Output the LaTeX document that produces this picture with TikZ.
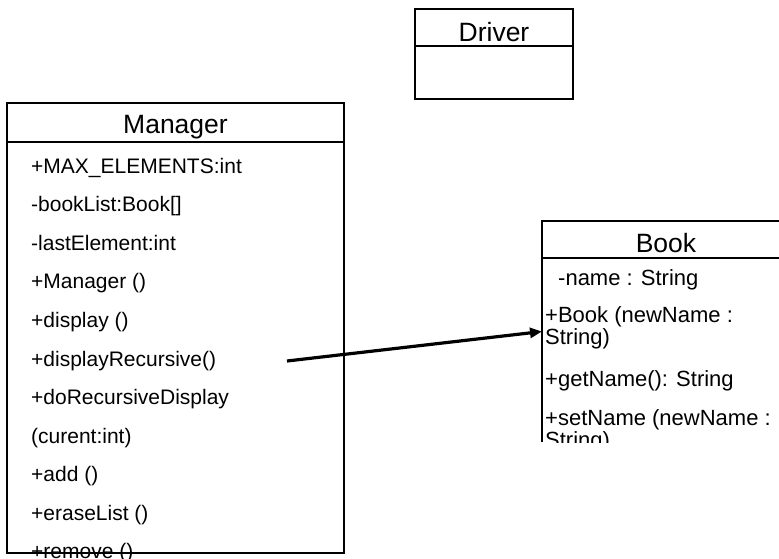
\documentclass[tikz,border=0pt]{standalone}
\usepackage{fontspec}
\setmainfont{Liberation Sans}
\usetikzlibrary{arrows.meta}
\begin{document}
\begin{tikzpicture}[x=1pt,y=-1pt,
  classbox/.style={draw=black,line width=1.1pt,inner sep=0pt,outer sep=0pt,anchor=north west},
  ghostbox/.style={inner sep=0pt,outer sep=0pt,anchor=north west},
  title/.style={font=\fontsize{26.5}{30}\selectfont,anchor=base,inner sep=0pt},
  member/.style={font=\fontsize{21}{25}\selectfont,anchor=base west,inner sep=0pt},
  bmember/.style={font=\fontsize{22}{26}\selectfont,anchor=base west,inner sep=0pt},
  sep/.style={line width=1.1pt},
  assoc/.style={line width=3.2pt,-{Triangle[length=12pt,width=10pt]}}
]
\useasboundingbox (0,0) rectangle (779,558);
\fill[white] (0,0) rectangle (779,558);

% Driver
\node[classbox,minimum width=158pt,minimum height=90pt] (driver) at (415,9) {};
\draw[sep] (415,46) -- (573,46);
\node[title] (drivert) at (494,41) {Driver};

% Manager
\node[classbox,minimum width=337pt,minimum height=450pt] (manager) at (7,103) {};
\draw[sep] (manager.west |- 0,142) -- (manager.east |- 0,142);
\node[title] (managert) at (175.5,133) {Manager};
\node[member] (m1) at (31,173) {+MAX\_ELEMENTS:int};
\node[member] (m2) at (31,211.6) {-bookList:Book[]};
\node[member] (m3) at (31,250.2) {-lastElement:int};
\node[member] (m4) at (31,288.8) {+Manager ()};
\node[member] (m5) at (31,327.4) {+display ()};
\node[member] (m6) at (31,366) {+displayRecursive()};
\node[member] (m7) at (31,404.6) {+doRecursiveDisplay};
\node[member] (m8) at (31,443.2) {(curent:int)};
\node[member] (m9) at (31,481.8) {+add ()};
\node[member] (m10) at (31,520.4) {+eraseList ()};
\node[member] (m11) at (31,558) {+remove ()};

% Book (cut off at right and bottom)
\node[ghostbox,minimum width=260pt,minimum height=221pt] (book) at (542,221) {};
\draw[line width=1.1pt] (book.south west) -- (book.north west) -- (book.north east);
\draw[sep] (542,258) -- (book.east |- 0,258);
\node[title] (bookt) at (666,252) {Book};
\begin{scope}
\clip (530,258) rectangle (790,442);
\node[bmember] (b1) at (558,285) {-name : String};
\node[bmember] (b2) at (545,322) {+Book (newName :};
\node[bmember] (b3) at (545,344) {String)};
\node[bmember] (b4) at (545,386) {+getName(): String};
\node[bmember] (b5) at (545,425) {+setName (newName :};
\node[bmember] (b6) at (545,447) {String)};
\end{scope}

% association
\coordinate (astart) at (287,361);
\draw[assoc] (astart) -- (book.west);
\end{tikzpicture}
\end{document}
